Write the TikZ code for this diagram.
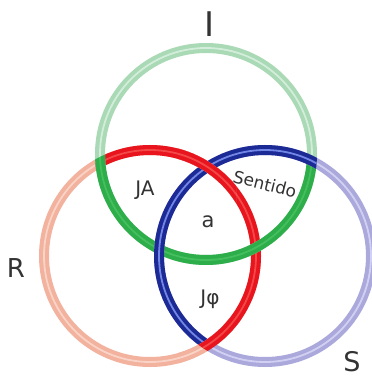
\documentclass[tikz,border=0pt]{standalone}
\usepackage{fontspec}
\setmainfont{DejaVu Sans}
\definecolor{glight}{HTML}{A9D9B5}
\definecolor{glmid}{HTML}{D2EDD9}
\definecolor{gdark}{HTML}{2DAE4A}
\definecolor{gdmid}{HTML}{45BE5E}
\definecolor{rlight}{HTML}{F2B29E}
\definecolor{rlmid}{HTML}{F8D3C6}
\definecolor{rdark}{HTML}{E8141E}
\definecolor{rdmid}{HTML}{F24848}
\definecolor{blight}{HTML}{ABA8DC}
\definecolor{blmid}{HTML}{D2D0F2}
\definecolor{bdark}{HTML}{1C2A96}
\definecolor{bdmid}{HTML}{7286E6}
\definecolor{txt}{HTML}{333333}
\newcommand\rr{106pt}
\newcommand\drawring[7]{%
  \draw[line width=10pt,#4] (#1) circle[radius=\rr];
  \draw[line width=1.8pt,#5] (#1) circle[radius=\rr];
  \begin{scope}
    \clip (#2) circle[radius=111pt] (#3) circle[radius=111pt];
    \draw[line width=10pt,#6] (#1) circle[radius=\rr];
    \draw[line width=1.8pt,#7] (#1) circle[radius=\rr];
  \end{scope}}
\begin{document}
\begin{tikzpicture}[x=1pt,y=-1pt,
  lbl/.style={text=txt,inner sep=0pt}]
\useasboundingbox (0,0) rectangle (371,379);
\fill[white] (0,0) rectangle (371,379);
\coordinate (G) at (206,154);
\coordinate (Rc) at (150,256);
\coordinate (Sc) at (265,256);
% rings
\drawring{Rc}{G}{Sc}{rlight}{rlmid}{rdark}{rdmid}
\drawring{G}{Rc}{Sc}{glight}{glmid}{gdark}{gdmid}
\drawring{Sc}{Rc}{G}{blight}{blmid}{bdark}{bdmid}
% red over blue at both red/blue crossings
\begin{scope}
  \clip (178,146) rectangle (236,202) (178,318) rectangle (242,379);
  \drawring{Rc}{G}{Sc}{rlight}{rlmid}{rdark}{rdmid}
\end{scope}
% labels
\node[lbl,font=\fontsize{34}{34}\selectfont] (tI) at (210,24) {I};
\node[lbl,font=\fontsize{26}{26}\selectfont] (tR) at (16,268) {R};
\node[lbl,font=\fontsize{27}{27}\selectfont] (tS) at (352,362) {S};
\node[lbl,font=\fontsize{20}{20}\selectfont] (tJA) at (145,190) {JA};
\node[lbl,font=\fontsize{21}{21}\selectfont] (ta) at (208,222) {a};
\node[lbl,font=\fontsize{17}{17}\selectfont,rotate=-14] (tSen) at (265,184) {Sentido};
\node[lbl,font=\fontsize{20}{20}\selectfont] (tJp) at (210,299) {Jφ};
\end{tikzpicture}
\end{document}
